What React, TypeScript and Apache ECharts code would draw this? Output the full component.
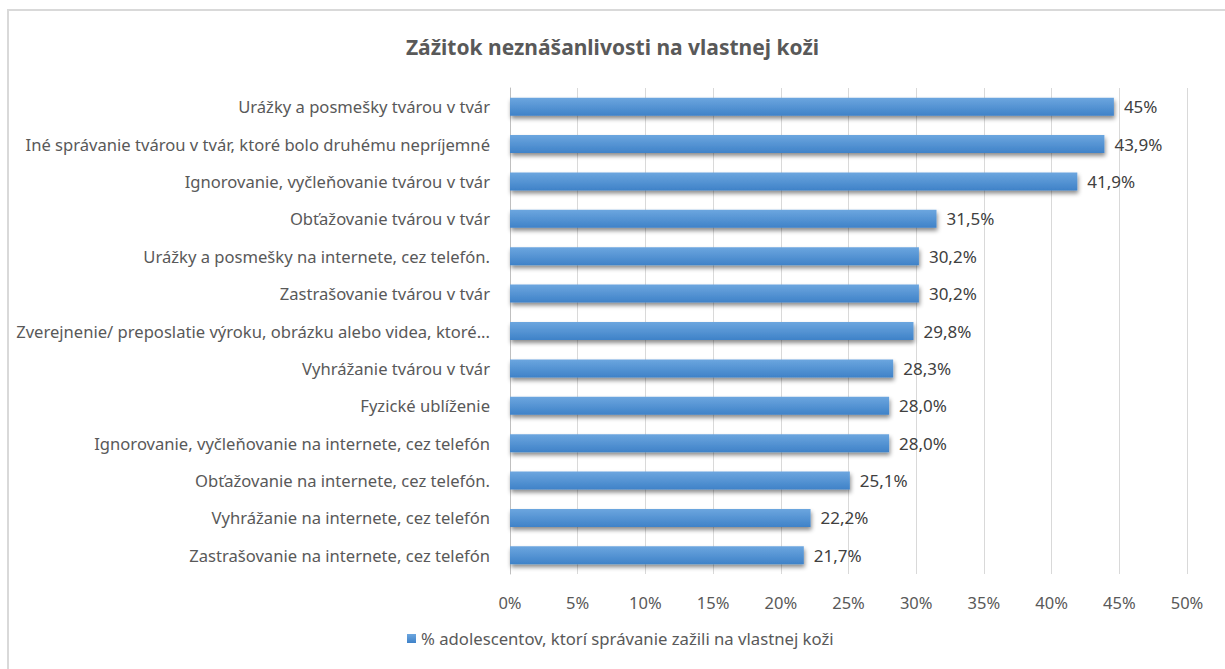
import React, { useEffect, useRef } from "react";
import * as echarts from "echarts";

const categories = [
  "Urážky a posmešky tvárou v tvár",
  "Iné správanie tvárou v tvár, ktoré bolo druhému nepríjemné",
  "Ignorovanie, vyčleňovanie tvárou v tvár",
  "Obťažovanie tvárou v tvár",
  "Urážky a posmešky na internete, cez telefón.",
  "Zastrašovanie tvárou v tvár",
  "Zverejnenie/ preposlatie výroku, obrázku alebo videa, ktoré...",
  "Vyhrážanie tvárou v tvár",
  "Fyzické ublíženie",
  "Ignorovanie, vyčleňovanie na internete, cez telefón",
  "Obťažovanie na internete, cez telefón.",
  "Vyhrážanie na internete, cez telefón",
  "Zastrašovanie na internete, cez telefón",
];
const values = [44.6, 43.9, 41.9, 31.5, 30.2, 30.2, 29.8, 28.3, 28.0, 28.0, 25.1, 22.2, 21.7];
const valueLabels = ["45%", "43,9%", "41,9%", "31,5%", "30,2%", "30,2%", "29,8%", "28,3%", "28,0%", "28,0%", "25,1%", "22,2%", "21,7%"];
const seriesName = "% adolescentov, ktorí správanie zažili na vlastnej koži";
const title = "Zážitok neznášanlivosti na vlastnej koži";

const FONT = "'Noto Sans', sans-serif";

export default function App() {
  const ref = useRef<HTMLDivElement>(null);
  useEffect(() => {
    if (!ref.current) return;
    const chart = echarts.init(ref.current, null, { renderer: "svg" });
    chart.setOption({
      animation: false,
      backgroundColor: "#ffffff",
      title: {
        text: title,
        left: "center",
        top: 31,
        textStyle: { fontFamily: FONT, fontSize: 21, fontWeight: "bold", color: "#595959" },
      },
      graphic: [
        {
          type: "rect",
          shape: { x: 8, y: 10, width: 1300, height: 800 },
          style: { fill: "none", stroke: "#d9d9d9", lineWidth: 2 },
          silent: true,
        },
      ],
      legend: {
        bottom: 17,
        left: 402,
        itemWidth: 9,
        itemHeight: 9,
        itemGap: 5,
        data: [{ name: seriesName, icon: "rect" }],
        textStyle: { fontFamily: FONT, fontSize: 16.7, color: "#595959" },
      },
      grid: { left: 510, right: 38, top: 88, bottom: 95, containLabel: false },
      xAxis: {
        type: "value",
        min: 0,
        max: 50,
        interval: 5,
        axisLabel: {
          formatter: (v: number) => `${v}%`,
          fontFamily: FONT,
          fontSize: 16.5,
          color: "#595959",
          margin: 20,
        },
        axisLine: { show: false },
        axisTick: { show: false },
        splitLine: { lineStyle: { color: "#d9d9d9", width: 1 } },
      },
      yAxis: {
        type: "category",
        inverse: true,
        data: categories,
        axisLine: { show: true, lineStyle: { color: "#bfbfbf", width: 1 } },
        axisTick: { show: false },
        axisLabel: { fontFamily: FONT, fontSize: 16.6, color: "#595959", margin: 20 },
      },
      series: [
        {
          name: seriesName,
          type: "bar",
          data: values,
          barWidth: 18,
          itemStyle: {
            color: new echarts.graphic.LinearGradient(0, 0, 0, 1, [
              { offset: 0, color: "#6ca6df" },
              { offset: 1, color: "#3f82c8" },
            ]),
            shadowColor: "rgba(0,0,0,0.45)",
            shadowBlur: 4,
            shadowOffsetX: 1,
            shadowOffsetY: 3,
          },
          label: {
            show: true,
            position: "right",
            distance: 10,
            fontFamily: FONT,
            fontSize: 17,
            color: "#404040",
            formatter: (p: any) => valueLabels[p.dataIndex],
          },
        },
      ],
    });
    return () => chart.dispose();
  }, []);
  return <div ref={ref} style={{ position: "fixed", left: 0, top: 0, width: 1225, height: 669 }} />;
}
